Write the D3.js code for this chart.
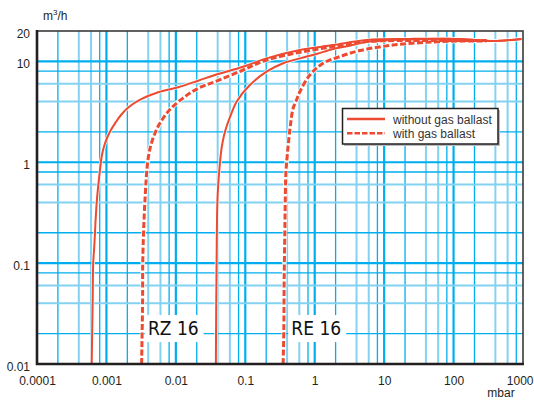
<!DOCTYPE html>
<html><head><meta charset="utf-8">
<script src="https://cdn.jsdelivr.net/npm/d3@7"></script>
<style>
html,body{margin:0;padding:0;background:#fff;}
svg{display:block;font-family:"Liberation Sans",Arial,sans-serif;}
</style></head>
<body><svg id="chart" width="534" height="401"></svg>
<script>
// ---- data (pressure mbar, pumping speed m3/h) ----
const xTickValues = [0.0001, 0.001, 0.01, 0.1, 1, 10, 100, 1000];
const xTickLabels = ["0.0001", "0.001", "0.01", "0.1", "1", "10", "100", "1000"];
const yTickValues = [0.01, 0.1, 1, 10, 20];
const yTickLabels = ["0.01", "0.1", "1", "10", "20"];
const gridMultipliers = [1, 2, 4, 6, 8];

const rzWithout = [[0.000613,0.01],[0.000634,0.0432],[0.000644,0.098],[0.000668,0.146],[0.000723,0.392],[0.000807,0.838],[0.000862,1.18],[0.000937,1.48],[0.001035,1.78],[0.00116,2.09],[0.00133,2.43],[0.00162,2.94],[0.00206,3.49],[0.00321,4.24],[0.00557,4.94],[0.0108,5.53],[0.021,6.43],[0.0365,7.33],[0.0932,8.85],[0.2025,10.7],[0.611,12.96],[1.84,14.5],[5.57,16.3],[23.4,16.7],[122.7,16.7],[366,15.9],[950,16.7]];
const rzWith = [[0.00321,0.01],[0.00332,0.0432],[0.00334,0.1075],[0.00359,0.423],[0.004,1.10],[0.0046,1.66],[0.0058,2.39],[0.00821,3.33],[0.0135,4.47],[0.021,5.41],[0.0365,6.29],[0.0932,8.21],[0.2025,10.3],[0.611,12.3],[1.84,13.98],[5.57,15.7],[23.4,16.1],[300,16.1]];
const reWithout = [[0.0377,0.01],[0.0386,0.0997],[0.0399,0.456],[0.0431,0.977],[0.0456,1.385],[0.0492,1.82],[0.054,2.29],[0.06,2.78],[0.0749,3.98],[0.1165,5.83],[0.2025,7.9],[0.351,9.57],[0.611,10.7],[1.06,11.83],[1.84,13.27],[3.2,14.3],[5.57,15.56],[23.4,16.5],[122.7,16.7],[366,15.9],[950,16.7]];
const reWith = [[0.351,0.01],[0.359,0.0218],[0.363,0.068],[0.3715,0.2132],[0.374,0.312],[0.384,0.777],[0.393,0.977],[0.4385,2.09],[0.489,3.43],[0.547,4.14],[0.611,5.0],[0.851,7.33],[1.32,9.57],[2.3,11.13],[4.46,12.8],[13.45,14.5],[40.7,15.45],[122.7,15.9],[297,15.9]];
const curveLabels = [{text:"RZ 16", p:0.00396, q:0.01937}, {text:"RE 16", p:0.46, q:0.01937}];
const legendItems = ["without gas ballast", "with gas ballast"];

// ---- layout ----
const W = 534, H = 401;
const m = {left:37, top:31, right:11, bottom:37};
const red = "#ec4a31", dark = "#00aeef", light = "#84d2f2", ink = "#231f20";
const svg = d3.select("#chart");
const x = d3.scaleLog().domain([0.0001, 1000]).range([m.left, W - m.right]);
const y = d3.scaleLog().domain([0.01, 20]).range([H - m.bottom, m.top]);

// grid
const xGrid = [], yGrid = [];
for (let e = -4; e <= 2; e++) gridMultipliers.forEach(k => { const v = k * Math.pow(10, e); xGrid.push([v, k]); });
for (let e = -2; e <= 1; e++) gridMultipliers.forEach(k => { const v = k * Math.pow(10, e); if (v < 20 * 0.999) yGrid.push([v, k]); });
const gStyle = k => k === 1 ? {c: dark, w: 2.2} : (k === 4 || k === 6) ? {c: light, w: 2} : {c: dark, w: 1.3};
const grid = svg.append("g");
grid.selectAll("line.vx").data(xGrid.filter(d => d[0] > 0.0001 * 1.001)).join("line")
  .attr("x1", d => x(d[0])).attr("x2", d => x(d[0])).attr("y1", y(20)).attr("y2", y(0.01))
  .attr("stroke", d => gStyle(d[1]).c).attr("stroke-width", d => gStyle(d[1]).w);
grid.selectAll("line.hy").data(yGrid.filter(d => d[0] > 0.01 * 1.001)).join("line")
  .attr("y1", d => y(d[0])).attr("y2", d => y(d[0])).attr("x1", x(0.0001)).attr("x2", x(1000))
  .attr("stroke", d => gStyle(d[1]).c).attr("stroke-width", d => gStyle(d[1]).w);

// curve label boxes
const lab = svg.append("g");
curveLabels.forEach(d => {
  const t = lab.append("text").attr("x", x(d.p)).attr("y", y(d.q))
    .attr("font-family", "'DejaVu Sans Condensed','DejaVu Sans',sans-serif").attr("font-size", 19)
    .attr("fill", "#111").text(d.text);
  const bb = t.node().getBBox();
  lab.insert("rect", "text").attr("x", bb.x - 3).attr("y", y(d.q) - 20).attr("width", bb.width + 8).attr("height", 27).attr("fill", "#fff");
});

// curves
const line = d3.line().x(d => x(d[0])).y(d => y(d[1])).curve(d3.curveCatmullRom.alpha(0.5));
const series = [
  {d: rzWithout, dash: null, w: 2},
  {d: reWithout, dash: null, w: 2},
  {d: rzWith, dash: "6,2.5", w: 3},
  {d: reWith, dash: "6,2.5", w: 3}
];
const cg = svg.append("g");
series.forEach(s => {
  cg.append("path").attr("d", line(s.d)).attr("fill", "none").attr("stroke", "#fff").attr("stroke-width", s.w + 1.6).attr("stroke-opacity", 0.8);
});
series.forEach(s => {
  cg.append("path").attr("d", line(s.d)).attr("fill", "none").attr("stroke", red).attr("stroke-width", s.w)
    .attr("stroke-dasharray", s.dash);
});

// frame
svg.append("rect").attr("x", x(0.0001)).attr("y", y(20)).attr("width", x(1000) - x(0.0001)).attr("height", y(0.01) - y(20))
  .attr("fill", "none").attr("stroke", "#3a3a3a").attr("stroke-width", 1.6);
svg.append("path").attr("d", `M${x(0.0001)},${y(20) - 1}V${y(0.01)}H${x(1000) + 1}`).attr("fill", "none").attr("stroke", ink).attr("stroke-width", 2.6);

// axes
const xAxis = d3.axisBottom(x).tickValues(xTickValues).tickFormat((d, i) => xTickLabels[i]).tickSize(0).tickPadding(12);
const gx = svg.append("g").attr("transform", `translate(0,${y(0.01)})`).call(xAxis);
gx.select(".domain").remove();
gx.selectAll("text").attr("font-size", 12).attr("fill", ink).attr("font-family", "'Liberation Sans',Arial,sans-serif");
gx.selectAll(".tick").filter(d => d === 1000).select("text").attr("text-anchor", "end").attr("x", 533 - x(1000));
const yAxis = d3.axisLeft(y).tickValues(yTickValues).tickFormat((d, i) => yTickLabels[i]).tickSize(0).tickPadding(7);
const gy = svg.append("g").attr("transform", `translate(${x(0.0001)},0)`).call(yAxis);
gy.select(".domain").remove();
gy.selectAll("text").attr("font-size", 12).attr("fill", ink).attr("dy", "0.55em").attr("font-family", "'Liberation Sans',Arial,sans-serif");

svg.append("text").attr("x", 501).attr("y", 397).attr("text-anchor", "middle").attr("font-size", 12).attr("fill", ink).text("mbar");
const ut = svg.append("text").attr("x", 43).attr("y", 20).attr("font-size", 12).attr("fill", ink);
ut.append("tspan").text("m");
ut.append("tspan").attr("font-size", 8).attr("dy", -5).text("3");
ut.append("tspan").attr("dy", 5).text("/h");

// legend
const lg = svg.append("g");
lg.append("rect").attr("x", 344).attr("y", 110).attr("width", 156).attr("height", 36).attr("fill", "#bbb");
lg.append("rect").attr("x", 342.5).attr("y", 108.5).attr("width", 155.5).attr("height", 35.5).attr("fill", "#fff").attr("stroke", ink).attr("stroke-width", 1.5);
legendItems.forEach((t, i) => {
  const ly = 119 + i * 14.3;
  lg.append("line").attr("x1", 347).attr("x2", 385).attr("y1", ly).attr("y2", ly).attr("stroke", red).attr("stroke-width", 2.5)
    .attr("stroke-dasharray", i === 1 ? "5.5,2" : null);
  lg.append("text").attr("x", 393).attr("y", ly + 2.5).attr("dy", "0.2em").attr("font-size", 12).attr("fill", "#333").text(t);
});
</script></body></html>
